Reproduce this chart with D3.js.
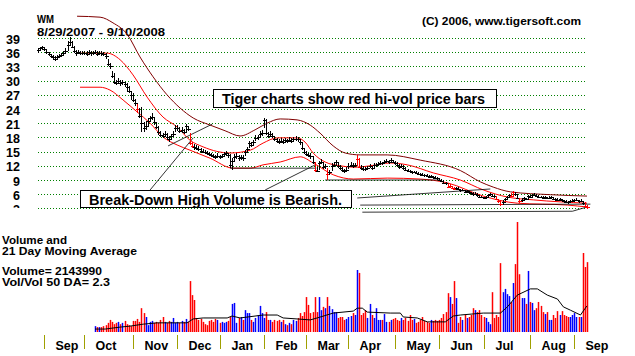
<!DOCTYPE html>
<html><head><meta charset="utf-8">
<script src="https://cdn.jsdelivr.net/npm/d3@7/dist/d3.min.js"></script>
<style>
body{margin:0;background:#fff}
svg{display:block;background:#fff}
text{font-family:Arial,"Liberation Sans",sans-serif;fill:#000}
</style>
</head><body>
<svg id="chart" width="635" height="356"></svg>
<script>
// ---------------- DATA ----------------
const ticker = "WM";
const dateRange = "8/29/2007 - 9/10/2008";
const copyright = "(C) 2006, www.tigersoft.com";
const startDate = "2007-08-29", endDate = "2008-09-10";
const holidays = ["2007-09-03","2007-11-22","2007-12-25","2008-01-01","2008-01-21","2008-02-18","2008-03-21","2008-05-26","2008-07-04","2008-09-01"];
const yTicks = [39,36,33,30,27,24,21,18,15,12,9,6,3];
const monthLabels = ["Sep","Oct","Nov","Dec","Jan","Feb","Mar","Apr","May","Jun","Jul","Aug","Sep"];

const closes = [
36.4,36.8,37.0,36.6,36.0,35.6,35.2,34.9,34.6,35.0,
35.2,35.5,35.8,36.3,37.6,38.2,37.2,36.2,35.8,36.0,
35.8,35.9,35.9,35.7,36.0,35.8,35.9,36.1,35.7,35.9,
35.8,35.6,35.2,33.6,33.0,31.0,29.8,29.5,29.9,29.4,
29.6,29.2,28.6,27.8,27.0,26.0,25.2,24.0,22.6,21.0,
20.0,20.5,21.4,22.0,22.4,21.2,20.2,19.2,18.6,18.4,
18.8,18.0,17.6,18.2,18.8,20.0,20.0,19.4,19.6,19.2,
20.4,19.8,16.8,16.2,15.9,15.8,15.6,15.2,15.0,14.9,
14.6,14.4,14.2,14.0,13.9,14.1,13.8,14.0,14.4,14.6,
14.2,12.2,13.0,13.8,14.0,13.6,13.8,13.6,14.9,15.6,
16.8,16.4,17.0,17.8,18.0,18.8,19.0,21.6,19.0,18.2,
18.8,18.4,17.6,17.2,17.0,17.3,17.1,17.4,17.2,17.5,
17.3,17.6,17.7,17.6,17.0,15.8,14.9,14.5,14.2,14.0,
12.9,11.2,11.0,12.6,12.8,11.8,12.0,10.3,10.6,12.0,
12.2,12.8,12.0,11.5,11.1,10.8,11.2,12.0,12.2,12.0,
12.2,13.4,11.8,11.6,11.4,11.3,11.6,11.9,11.5,12.1,
12.2,12.4,12.6,12.5,12.9,13.0,12.8,13.2,12.9,12.6,
12.2,11.8,12.0,11.6,11.2,11.0,10.8,10.6,10.7,10.5,
10.3,10.2,10.1,10.0,9.9,9.7,9.8,9.6,9.5,9.4,
9.0,8.8,8.4,8.3,7.6,7.8,7.3,7.0,7.3,7.1,
6.8,6.9,6.5,6.6,6.4,6.2,6.0,6.1,5.8,5.5,
5.4,5.2,5.4,5.8,6.0,5.7,5.6,5.0,4.6,3.9,
4.4,5.0,5.4,5.8,5.7,6.4,6.0,5.2,4.5,4.8,
5.1,5.0,5.6,5.5,5.8,5.9,5.7,5.5,5.4,5.3,
5.4,5.2,5.3,5.4,5.0,4.9,4.8,4.9,4.7,4.5,
4.4,4.3,4.5,4.6,4.7,4.8,4.5,4.6,4.1,3.6,
3.3];
const highs = [
36.9,37.2,37.4,37.1,36.7,36.1,35.7,35.4,35.2,35.4,
35.6,35.9,36.2,36.8,38.4,39.2,38.3,37.3,36.4,36.4,
36.2,36.3,36.3,36.2,36.4,36.3,36.3,36.5,36.2,36.3,
36.2,36.1,35.8,34.6,33.7,32.0,31.6,30.2,30.5,30.1,
30.2,29.8,29.4,28.8,27.6,27.4,26.2,25.0,24.2,24.4,
21.2,21.4,22.0,22.6,23.2,22.4,21.2,20.4,19.4,19.0,
19.3,18.9,18.2,18.7,19.4,20.6,20.6,20.1,20.2,19.8,
20.8,20.5,19.0,17.0,16.6,16.3,16.1,15.8,15.5,15.4,
15.1,14.9,14.7,14.5,14.3,14.6,14.3,14.4,14.9,15.1,
14.8,14.4,13.6,14.4,14.7,14.3,14.3,14.2,15.4,16.0,
17.2,17.0,17.5,18.5,18.6,19.4,19.6,22.2,21.8,19.2,
19.4,19.0,18.4,17.8,17.6,17.8,17.6,17.9,17.7,18.0,
17.8,18.0,18.2,18.1,17.6,17.0,15.8,15.2,14.8,14.6,
14.0,12.8,11.8,13.0,13.4,12.8,12.4,11.6,11.2,12.5,
12.8,13.2,12.9,12.2,11.7,11.4,11.7,12.5,12.7,12.5,
12.6,14.3,13.6,12.1,11.9,11.8,12.0,12.3,12.0,12.5,
12.6,12.8,13.0,12.9,13.3,13.4,13.2,13.6,13.3,13.0,
12.7,12.3,12.4,12.1,11.7,11.4,11.2,11.0,11.0,10.9,
10.7,10.5,10.4,10.3,10.2,10.1,10.1,9.9,9.8,9.7,
9.4,9.2,8.9,8.6,8.3,8.1,7.8,7.6,7.6,7.5,
7.2,7.2,6.9,6.9,6.7,6.5,6.4,6.4,6.2,5.9,
5.7,5.5,5.7,6.1,6.3,6.1,5.9,5.6,5.0,4.7,
4.8,5.3,5.7,6.1,6.2,6.6,6.5,6.1,5.3,5.1,
5.4,5.3,5.9,5.9,6.1,6.2,6.0,5.8,5.7,5.6,
5.7,5.5,5.6,5.7,5.4,5.2,5.1,5.2,5.0,4.8,
4.7,4.6,4.8,4.9,5.0,5.1,4.8,4.9,4.6,4.3,
3.8];
const lows = [
35.9,36.2,36.5,36.2,35.6,35.1,34.7,34.3,34.1,34.5,
34.8,35.0,35.3,35.7,36.2,37.4,36.8,35.8,35.3,35.6,
35.4,35.5,35.4,35.3,35.5,35.3,35.4,35.6,35.2,35.4,
35.3,35.1,34.6,33.0,32.4,30.5,29.3,29.0,29.3,28.9,
29.0,28.7,27.6,27.3,25.8,25.5,24.6,23.2,22.0,19.1,
19.2,19.6,20.4,21.2,21.6,20.6,19.7,18.6,18.0,17.8,
18.1,17.4,17.0,17.6,18.1,19.1,19.4,18.9,19.0,18.7,
19.2,19.3,16.4,15.7,15.4,15.3,15.1,14.8,14.6,14.5,
14.2,14.0,13.8,13.6,13.5,13.7,13.4,13.6,13.9,14.1,
13.7,11.5,11.1,12.9,13.4,13.1,13.3,13.1,14.1,14.8,
15.8,16.0,16.4,17.2,17.4,18.1,18.4,20.0,18.6,17.8,
18.2,17.9,17.2,16.8,16.6,16.8,16.7,17.0,16.8,17.0,
16.9,17.1,17.2,17.0,16.5,15.4,14.5,14.0,13.8,13.5,
12.4,10.7,10.6,11.2,12.3,11.4,11.3,9.0,10.1,10.8,
11.7,12.2,11.6,11.1,10.7,10.4,10.7,11.4,11.8,11.6,
11.8,12.0,11.6,11.2,11.0,10.9,11.2,11.5,11.1,11.6,
11.8,12.0,12.2,12.1,12.5,12.6,12.4,12.8,12.5,12.2,
11.8,11.4,11.6,11.2,10.9,10.7,10.5,10.3,10.4,10.2,
10.0,9.9,9.8,9.7,9.6,9.4,9.5,9.3,9.2,9.1,
8.7,8.5,8.1,7.9,7.3,7.4,7.0,6.9,6.9,6.8,
6.5,6.6,6.2,6.3,6.1,5.9,5.7,5.8,5.5,5.2,
5.1,4.9,5.1,5.4,5.7,5.4,5.3,4.8,4.2,3.6,
3.8,4.6,5.0,5.4,5.4,5.6,5.7,5.0,4.2,4.4,
4.8,4.7,5.0,5.2,5.5,5.6,5.4,5.2,5.1,5.0,
5.1,4.9,5.0,5.1,4.8,4.6,4.5,4.6,4.4,4.2,
4.1,4.0,4.2,4.3,4.4,4.5,4.2,4.3,3.7,3.0,
2.9];
// high-volume days drawn as red price bars (day index)
const redBars = [47,72,73,131,137,151,152,194,195,196,197,217,218,219,224,225,228,259,260];

// volume (millions of shares), first value is day index volStart
const volStart = 27;
const volumes = [
0.18,0.15,0.15,0.15,0.18,0.21,0.28,0.37,0.31,0.24,0.28,0.31,0.24,0.28,0.34,0.24,0.21,0.18,
0.34,0.34,0.40,0.31,0.73,0.58,0.46,0.21,0.31,0.34,0.28,0.31,0.28,0.37,0.46,0.31,0.28,0.34,0.31,0.43,0.28,
0.31,0.28,0.34,0.31,0.40,0.31,1.56,1.13,0.98,0.43,0.37,0.40,0.31,0.24,0.21,0.34,0.37,0.31,0.40,0.37,
0.28,0.31,0.28,0.31,0.34,0.46,0.86,0.89,0.28,0.43,0.46,0.37,0.67,0.58,0.58,0.37,0.31,0.43,0.52,0.80,0.58,
0.43,0.61,0.37,0.37,0.31,0.37,0.34,0.37,0.31,0.37,0.24,0.21,0.28,0.24,0.37,0.34,0.43,0.58,0.49,0.61,
1.07,0.83,0.58,0.61,1.07,0.61,1.07,0.67,0.77,0.73,1.07,0.80,0.70,0.61,0.61,0.43,0.46,0.46,0.37,0.40,
0.46,0.49,0.58,0.52,1.90,1.81,0.52,0.58,0.67,0.43,0.86,0.52,0.43,0.73,0.37,0.37,0.37,0.55,0.31,0.31,0.37,0.40,
0.43,0.37,0.34,0.43,0.37,0.43,0.34,0.52,0.37,0.40,0.28,0.31,0.37,0.46,0.34,0.31,0.28,0.37,0.34,0.37,0.34,
0.37,0.43,0.55,0.61,1.19,1.07,0.86,1.56,1.04,0.28,0.46,0.37,0.52,0.43,0.46,0.52,0.73,0.67,0.61,0.67,0.52,
0.46,0.43,0.31,0.24,1.22,0.43,0.52,0.46,2.11,1.22,1.32,1.16,1.10,0.92,1.50,2.08,3.37,1.77,1.04,1.04,0.86,1.87,
0.92,0.89,0.67,0.73,0.92,0.80,0.61,0.55,0.61,0.37,0.37,0.52,0.43,0.64,0.52,0.64,0.52,0.49,0.46,0.46,0.52,
0.58,0.46,0.46,0.46,2.42,1.99,2.14];
const volumeLast = "2143990";
const volRatio = "2.3";
// 21-day moving average of volume, read at sample days
const volMA = [[27,0.09],[31.8,0.09],[38.9,0.15],[43.6,0.18],[49.8,0.24],[56.4,0.28],[70.6,0.28],[73.5,0.40],[78.2,0.43],[89.6,0.43],[91.9,0.49],[95.7,0.43],[106.6,0.52],[113.3,0.52],[116.1,0.43],[122.7,0.40],[128.9,0.37],[132.2,0.43],[139.8,0.58],[149.3,0.64],[151.2,0.73],[153.6,0.73],[155.9,0.61],[166.8,0.58],[171.6,0.58],[173,0.46],[179.6,0.43],[184.4,0.31],[192.9,0.31],[196.7,0.49],[200,0.52],[210.9,0.58],[219,0.58],[222.3,0.77],[227,1.13],[233.2,1.32],[236.5,1.32],[241.2,1.13],[246,1.01],[248.8,0.77],[252.1,0.67],[256.9,0.52],[259.2,0.73],[260,0.80]];

// price bands, read at sample days [day index, price]
const upperBand = [[18.5,43.6],[29.4,43.4],[35.5,42.2],[42.2,39.8],[48.3,35.0],[54.5,30.8],[61.1,27.0],[67.3,24.2],[73.5,22.1],[81.5,20.6],[88.6,19.4],[95.7,18.3],[102.8,19.6],[108.5,21.0],[114.7,21.9],[122.7,21.7],[128.9,20.6],[133.6,18.9],[139.8,16.2],[145.5,14.7],[152.6,14.3],[165.4,14.3],[181,13.2],[200,11.0],[209.5,8.6],[215.6,7.5],[223.7,6.5],[242.7,5.9],[260,5.6]];
const midBand = [[19.9,35.8],[32.7,35.8],[38.9,34.4],[45,31.2],[51.7,26.5],[59.2,22.3],[65.9,20.2],[72,17.4],[78.2,16.0],[91,14.7],[100.5,15.3],[106.6,16.8],[113.3,17.9],[122.7,17.9],[126.5,17.0],[130.3,14.7],[136,12.8],[143.1,12.0],[150.2,11.7],[157.3,12.0],[166.8,12.6],[174.9,12.2],[187.2,10.5],[200,9.0],[210.9,6.9],[222.3,5.4],[234.6,4.8],[260,4.1]];
const lowerBand = [[19.9,28.6],[29.4,28.6],[34.1,28.0],[40.3,25.9],[46.9,23.4],[53.1,21.0],[59.2,18.1],[65.9,16.4],[72,15.3],[81.5,13.6],[92.4,11.5],[100.5,11.5],[106.6,12.2],[114.7,12.8],[124.2,13.9],[130.3,12.6],[139.8,10.1],[149.3,9.2],[165.4,9.4],[181,9.2],[193.8,8.4],[210.9,5.6],[227,4.1],[250.7,3.7],[260,3.3]];
// drawn trend / pointer lines [day index, price]
const trendLines = [
  [[53.1,6.9],[73.5,17.9]],
  [[61.6,16.2],[82.5,20.8]],
  [[107.6,6.9],[131.3,12.2]],
  [[91,11.5],[131.8,11.5]],
  [[136,9.0],[190.5,9.0]],
  [[151.2,5.2],[214.2,7.1]],
  [[152.6,3.7],[261.6,3.9]],
  [[153.6,2.2],[253.1,2.4],[260,3.3]]
];
const note1 = "Tiger charts show red hi-vol price bars";
const note2 = "Break-Down High Volume is Bearish.";

// ---------------- CHART ----------------
const svg = d3.select("#chart");
const parse = d3.timeParse("%Y-%m-%d"), fmt = d3.timeFormat("%Y-%m-%d");
const hol = new Set(holidays);
const days = [];
for (let d = parse(startDate); d <= parse(endDate); d = d3.timeDay.offset(d, 1)) {
  const wd = d.getDay();
  if (wd !== 0 && wd !== 6 && !hol.has(fmt(d))) days.push(d);
}
const n = closes.length;
const x = d3.scaleLinear().domain([0, n - 1]).range([38, 587]);
const y = d3.scaleLinear().domain([3, 39]).range([208.4, 38]);
const yv = d3.scaleLinear().domain([0, 3.4]).range([332, 221]);

// grid
svg.append("g").selectAll("line").data(yTicks).join("line")
  .attr("x1", 38).attr("x2", 587)
  .attr("y1", d => Math.round(y(d)) + 0.5).attr("y2", d => Math.round(y(d)) + 0.5)
  .attr("stroke", "#008000").attr("stroke-width", 1).attr("stroke-dasharray", "1,2");

// y labels (clipped at bottom like the original)
svg.append("clipPath").attr("id", "lblclip").append("rect").attr("x", 0).attr("y", 0).attr("width", 36).attr("height", 208);
svg.append("g").attr("clip-path", "url(#lblclip)").selectAll("text").data(yTicks).join("text")
  .attr("x", 20).attr("y", d => y(d) + 5.5).attr("text-anchor", "end")
  .attr("font-size", 12.5).attr("font-weight", "bold").text(d => d);

// titles
svg.append("text").attr("x", 37).attr("y", 22.5).attr("font-size", 11.5).attr("font-weight", "bold")
  .attr("textLength", 17).attr("lengthAdjust", "spacingAndGlyphs").text(ticker);
svg.append("text").attr("x", 37).attr("y", 35.5).attr("font-size", 11).attr("font-weight", "bold")
  .attr("textLength", 128).attr("lengthAdjust", "spacingAndGlyphs").text(dateRange);
svg.append("text").attr("x", 422).attr("y", 25).attr("font-size", 11).attr("font-weight", "bold")
  .attr("textLength", 159).attr("lengthAdjust", "spacingAndGlyphs").text(copyright);

// bands
const line = d3.line().x(d => x(d[0])).y(d => y(d[1])).curve(d3.curveMonotoneX);
svg.append("path").attr("d", line(upperBand)).attr("fill", "none").attr("stroke", "#800000").attr("stroke-width", 1);
svg.append("path").attr("d", line(midBand)).attr("fill", "none").attr("stroke", "#ff0000").attr("stroke-width", 1);
svg.append("path").attr("d", line(lowerBand)).attr("fill", "none").attr("stroke", "#ff0000").attr("stroke-width", 1);

// trend lines
const tl = d3.line().x(d => x(d[0])).y(d => y(d[1]));
svg.append("g").selectAll("path").data(trendLines).join("path")
  .attr("d", tl).attr("fill", "none").attr("stroke", "#000").attr("stroke-width", 0.8);

// price bars
const red = new Set(redBars);
const bars = svg.append("g").attr("shape-rendering", "crispEdges");
d3.range(n).forEach(i => {
  const c = red.has(i) ? "#ff0000" : "#000";
  const cx = Math.round(x(i)) + 0.5;
  bars.append("line").attr("x1", cx).attr("x2", cx)
    .attr("y1", y(highs[i])).attr("y2", y(lows[i])).attr("stroke", c);
  bars.append("line").attr("x1", cx - 2).attr("x2", cx + 2)
    .attr("y1", Math.round(y(closes[i])) + 0.5).attr("y2", Math.round(y(closes[i])) + 0.5).attr("stroke", c);
});

// annotation boxes
function box(x0, y0, w, h, txt, tx, ty, tw, fs) {
  svg.append("rect").attr("x", x0 + 0.5).attr("y", y0 + 0.5).attr("width", w).attr("height", h)
    .attr("fill", "#fff").attr("stroke", "#000").attr("stroke-width", 1);
  svg.append("text").attr("x", tx).attr("y", ty).attr("font-size", fs).attr("font-weight", "bold")
    .attr("textLength", tw).attr("lengthAdjust", "spacingAndGlyphs").text(txt);
}
box(213, 89, 283, 18, note1, 222, 104, 263, 14);
box(80, 190, 271, 17, note2, 89, 205, 253, 14);

// volume labels
const vl = [["Volume and", 244, 65], ["21 Day Moving Average", 255, 135], ["Volume= " + volumeLast, 275, 100], ["Vol/Vol 50 DA= " + volRatio, 286, 108]];
svg.append("g").selectAll("text").data(vl).join("text")
  .attr("x", 2).attr("y", d => d[1]).attr("font-size", 11).attr("font-weight", "bold")
  .attr("textLength", d => d[2]).attr("lengthAdjust", "spacingAndGlyphs").text(d => d[0]);

// volume bars
const vg = svg.append("g");
volumes.forEach((v, k) => {
  const i = volStart + k;
  const c = closes[i] >= closes[i - 1] ? "#0000ff" : "#ff0000";
  const vx = Math.round(x(i)) + 0.5;
  vg.append("line").attr("x1", vx).attr("x2", vx).attr("y1", yv(0)).attr("y2", yv(v))
    .attr("stroke", c).attr("stroke-width", 1.5);
});
svg.append("path").attr("d", d3.line().x(d => x(d[0])).y(d => yv(d[1]))(volMA))
  .attr("fill", "none").attr("stroke", "#000").attr("stroke-width", 1);

// month ticks and labels
const monthStarts = [];
days.forEach((d, i) => { if (i > 0 && d.getMonth() !== days[i - 1].getMonth()) monthStarts.push(i); });
const mg = svg.append("g");
monthStarts.forEach((i, k) => {
  const tx = Math.round(x(i)) + 0.5;
  mg.append("line").attr("x1", tx).attr("x2", tx).attr("y1", 335).attr("y2", 349)
    .attr("stroke", "#a0a000").attr("stroke-width", 1);
  mg.append("text").attr("x", tx + 11).attr("y", 350).attr("font-size", 12.5).attr("font-weight", "bold")
    .text(monthLabels[k]);
});
</script>
</body></html>
